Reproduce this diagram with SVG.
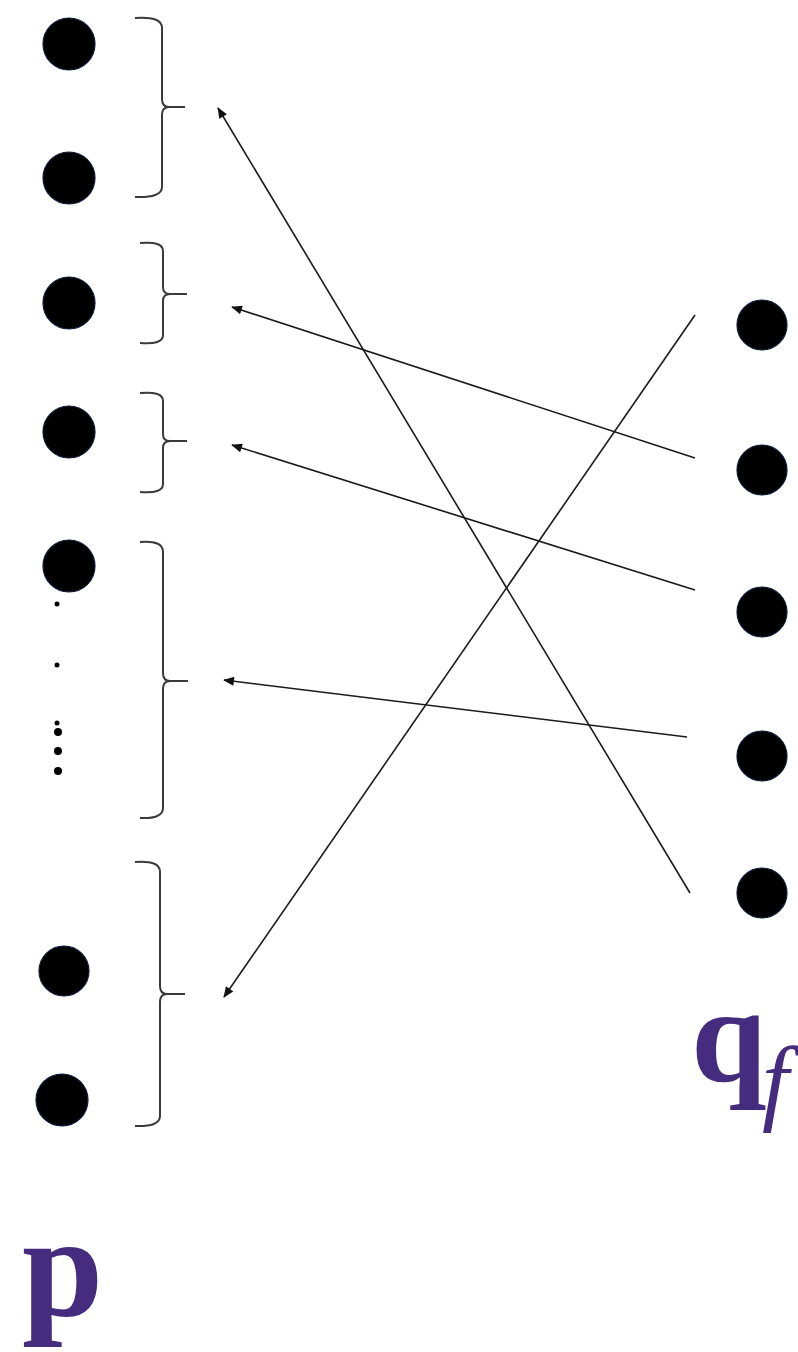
<svg xmlns="http://www.w3.org/2000/svg" width="798" height="1352" viewBox="0 0 798 1352">
<style>
.dot{fill:#000;stroke:#0d1a3a;stroke-width:1.2}
.sdot{fill:#000}
.br{fill:none;stroke:#3a3a3a;stroke-width:2}
.ar{fill:none;stroke:#1a1a1a;stroke-width:1.6;marker-end:url(#ah)}
.lbl{font-family:"Liberation Serif",serif;fill:#452c7e}
</style>
<defs>
<marker id="ah" viewBox="0 0 12 10" refX="11" refY="5" markerWidth="13" markerHeight="9" markerUnits="userSpaceOnUse" orient="auto">
<path d="M0,0 L12,5 L0,10 Z" fill="#111"/>
</marker>
</defs>
<rect width="798" height="1352" fill="#fff"/>
<g id="p-nodes">
<circle id="p1" class="dot" cx="69" cy="44" r="26"/>
<circle id="p2" class="dot" cx="69" cy="178" r="26"/>
<circle id="p3" class="dot" cx="69" cy="303" r="26"/>
<circle id="p4" class="dot" cx="69" cy="432" r="26"/>
<circle id="p5" class="dot" cx="69" cy="566" r="26"/>
<circle id="p6" class="dot" cx="64" cy="971" r="25"/>
<circle id="p7" class="dot" cx="62" cy="1100" r="26"/>
</g>
<g id="ellipsis">
<circle class="sdot" cx="57" cy="604" r="2.5"/>
<circle class="sdot" cx="57" cy="665" r="2.5"/>
<circle class="sdot" cx="57" cy="723" r="2.5"/>
<circle class="sdot" cx="58" cy="732" r="4"/>
<circle class="sdot" cx="58" cy="751" r="4"/>
<circle class="sdot" cx="58" cy="771" r="4"/>
</g>
<g id="brackets">
<path id="b1" class="br" d="M135,18 Q162,16 162,28 L162,99 Q162,107 169,107 L185,107 M169,107 Q162,107 162,115 L162,187 Q162,198 135,197"/>
<path id="b2" class="br" d="M140,243 Q163,241 163,251 L163,287 Q163,294 170,294 L187,294 M170,294 Q163,294 163,301 L163,335 Q163,345 140,343"/>
<path id="b3" class="br" d="M140,393 Q163,391 163,401 L163,434 Q163,441 170,441 L187,441 M170,441 Q163,441 163,448 L163,484 Q163,494 140,492"/>
<path id="b4" class="br" d="M140,542 Q163,540 163,552 L163,673 Q163,681 170,681 L188,681 M170,681 Q163,681 163,689 L163,808 Q163,819 140,818"/>
<path id="b5" class="br" d="M135,862 Q160,860 160,872 L160,986 Q160,994 167,994 L185,994 M167,994 Q160,994 160,1002 L160,1116 Q160,1127 135,1126"/>
</g>
<g id="q-nodes">
<circle id="q1" class="dot" cx="762" cy="325" r="25"/>
<circle id="q2" class="dot" cx="762" cy="470" r="25"/>
<circle id="q3" class="dot" cx="762" cy="612" r="25"/>
<circle id="q4" class="dot" cx="762" cy="756" r="25"/>
<circle id="q5" class="dot" cx="762" cy="893" r="25"/>
</g>
<g id="connectors">
<line class="ar" x1="690" y1="893" x2="218" y2="108"/>
<line class="ar" x1="695" y1="458" x2="232" y2="307"/>
<line class="ar" x1="695" y1="590" x2="232" y2="445"/>
<line class="ar" x1="687" y1="737" x2="224" y2="680"/>
<line class="ar" x1="695" y1="315" x2="224" y2="997"/>
</g>
<g id="labels">
<text class="lbl" x="22" y="1316" font-size="146" font-weight="bold">p</text>
<text class="lbl" x="691" y="1081" font-size="136" font-weight="bold">q</text>
<text class="lbl" x="762" y="1113" font-size="96" font-style="italic">f</text>
</g>
</svg>
